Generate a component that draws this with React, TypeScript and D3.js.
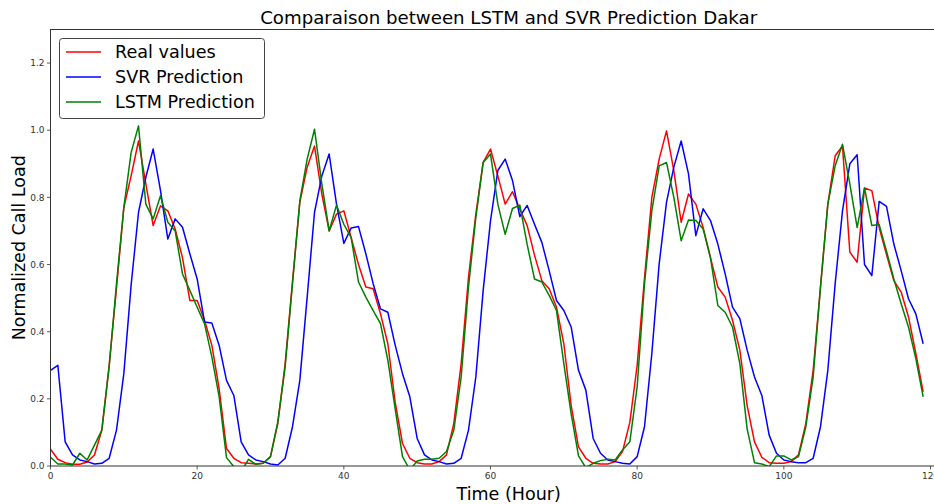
import React from "react";
import * as d3 from "d3";

const hours: number[] = Array.from({ length: 120 }, (_, i) => i);

const realValues: number[] = [
  0.05, 0.02, 0.01, 0.005, 0.005, 0.012, 0.033, 0.107, 0.3, 0.53,
  0.77, 0.865, 0.968, 0.84, 0.716, 0.775, 0.76, 0.706, 0.62, 0.493,
  0.493, 0.434, 0.36, 0.23, 0.052, 0.023, 0.01, 0.008, 0.006, 0.008,
  0.028, 0.127, 0.305, 0.55, 0.785, 0.89, 0.953, 0.81, 0.7, 0.75,
  0.76, 0.68, 0.6, 0.533, 0.528, 0.453, 0.364, 0.19, 0.067, 0.023,
  0.01, 0.006, 0.006, 0.013, 0.033, 0.127, 0.305, 0.562, 0.75, 0.904,
  0.944, 0.864, 0.78, 0.817, 0.765, 0.716, 0.628, 0.552, 0.528, 0.473,
  0.364, 0.18, 0.057, 0.023, 0.008, 0.006, 0.006, 0.013, 0.043, 0.13,
  0.3, 0.56, 0.8, 0.914, 0.998, 0.88, 0.726, 0.81, 0.78, 0.71,
  0.62, 0.533, 0.503, 0.434, 0.345, 0.18, 0.072, 0.026, 0.01, 0.008,
  0.008, 0.013, 0.033, 0.127, 0.285, 0.533, 0.78, 0.924, 0.953, 0.637,
  0.607, 0.828, 0.82, 0.71, 0.63, 0.552, 0.518, 0.444, 0.335, 0.221,
];

const svrPrediction: number[] = [
  0.285, 0.3, 0.072, 0.033, 0.018, 0.013, 0.006, 0.008, 0.023, 0.107,
  0.275, 0.54, 0.755, 0.86, 0.944, 0.82, 0.676, 0.736, 0.711, 0.632,
  0.557, 0.429, 0.426, 0.359, 0.255, 0.21, 0.072, 0.033, 0.018, 0.013,
  0.006, 0.003, 0.023, 0.117, 0.255, 0.503, 0.755, 0.864, 0.929, 0.78,
  0.663, 0.709, 0.713, 0.632, 0.543, 0.468, 0.458, 0.36, 0.275, 0.206,
  0.082, 0.033, 0.018, 0.013, 0.006, 0.008, 0.023, 0.107, 0.265, 0.523,
  0.73, 0.88, 0.914, 0.85, 0.743, 0.776, 0.72, 0.666, 0.582, 0.493,
  0.463, 0.414, 0.285, 0.226, 0.082, 0.038, 0.018, 0.013, 0.008, 0.006,
  0.028, 0.117, 0.335, 0.602, 0.785, 0.89, 0.968, 0.87, 0.686, 0.766,
  0.731, 0.661, 0.572, 0.473, 0.439, 0.345, 0.265, 0.21, 0.092, 0.038,
  0.018, 0.013, 0.01, 0.01, 0.023, 0.117, 0.285, 0.543, 0.76, 0.9,
  0.927, 0.6, 0.567, 0.788, 0.773, 0.661, 0.582, 0.498, 0.453, 0.364,
];

const lstmPrediction: number[] = [
  0.026, 0.006, 0.006, 0.003, 0.038, 0.018, 0.062, 0.107, 0.295, 0.543,
  0.77, 0.934, 1.013, 0.78, 0.736, 0.805, 0.726, 0.7, 0.572, 0.523,
  0.473, 0.424, 0.325, 0.206, 0.025, -0.002, -0.017, 0.02, 0.005, 0.008,
  0.028, 0.132, 0.295, 0.543, 0.79, 0.914, 1.003, 0.84, 0.7, 0.777,
  0.72, 0.68, 0.548, 0.503, 0.463, 0.424, 0.315, 0.17, 0.028, -0.012,
  0.015, 0.02, 0.02, 0.023, 0.043, 0.107, 0.265, 0.533, 0.74, 0.904,
  0.929, 0.78, 0.69, 0.767, 0.777, 0.66, 0.557, 0.548, 0.508, 0.463,
  0.305, 0.155, 0.03, -0.005, 0.008, 0.016, 0.02, 0.018, 0.048, 0.072,
  0.236, 0.543, 0.76, 0.894, 0.904, 0.8, 0.671, 0.733, 0.731, 0.706,
  0.62, 0.478, 0.458, 0.414, 0.305, 0.11, 0.01, 0.006, -0.002, 0.03,
  0.03, 0.018, 0.028, 0.117, 0.265, 0.533, 0.78, 0.894, 0.958, 0.84,
  0.71, 0.828, 0.716, 0.719, 0.64, 0.557, 0.483, 0.414, 0.32, 0.206,
];

const xTicks: number[] = [0, 20, 40, 60, 80, 100, 120];
const yTicks: number[] = [0, 0.2, 0.4, 0.6, 0.8, 1.0, 1.2];

const seriesNames: string[] = ["Real values", "SVR Prediction", "LSTM Prediction"];
const seriesColors: string[] = ["#ff0000", "#0000ff", "#008000"];

const W = 934;
const H = 504;
const LEFT = 50.5;
const TOP = 29.5;
const BOTTOM = 466;
const X_MAX = 124.95;
const PX_PER_UNIT = (930.5 - 50.5) / 120;
const RIGHT = LEFT + X_MAX * PX_PER_UNIT;

const FONT = "'DejaVu Sans', sans-serif";

export default function App() {
  const x = d3.scaleLinear().domain([0, X_MAX]).range([LEFT, RIGHT]);
  const y = d3.scaleLinear().domain([0, 1.3]).range([BOTTOM, TOP]);

  const allSeries = [realValues, svrPrediction, lstmPrediction];
  const line = d3
    .line<number>()
    .x((_, i) => x(hours[i]))
    .y((d) => y(d));

  const cx = (LEFT + RIGHT) / 2;
  const cy = (TOP + BOTTOM) / 2;

  return (
    <svg
      width={W}
      height={H}
      style={{ position: "absolute", left: 0, top: 0, background: "#fff" }}
      fontFamily={FONT}
    >
      <defs>
        <clipPath id="plotArea">
          <rect x={LEFT} y={TOP} width={RIGHT - LEFT} height={BOTTOM - TOP} />
        </clipPath>
      </defs>
      <rect x={0} y={0} width={W} height={H} fill="#fff" />

      <g clipPath="url(#plotArea)">
        {allSeries.map((s, k) => (
          <path
            key={k}
            d={line(s) || ""}
            fill="none"
            stroke={seriesColors[k]}
            strokeWidth={1.5}
            strokeLinejoin="round"
          />
        ))}
      </g>

      {/* spines */}
      <rect
        x={LEFT}
        y={TOP}
        width={RIGHT - LEFT}
        height={BOTTOM - TOP}
        fill="none"
        stroke="#333"
        strokeWidth={1}
      />

      {/* x ticks */}
      {xTicks.map((t) => (
        <g key={"x" + t}>
          <line x1={x(t)} x2={x(t)} y1={BOTTOM} y2={BOTTOM + 3.5} stroke="#333" strokeWidth={0.8} />
          <text
            x={x(t)}
            y={BOTTOM + 12.5}
            fontSize={9}
            textAnchor="middle"
            fill="#333"
          >
            {d3.format("d")(t)}
          </text>
        </g>
      ))}

      {/* y ticks */}
      {yTicks.map((t) => (
        <g key={"y" + t}>
          <line x1={LEFT - 3.5} x2={LEFT} y1={y(t)} y2={y(t)} stroke="#333" strokeWidth={0.8} />
          <text
            x={LEFT - 6}
            y={y(t) + 3.2}
            fontSize={9}
            textAnchor="end"
            fill="#333"
          >
            {d3.format(".1f")(t)}
          </text>
        </g>
      ))}

      {/* title */}
      <text x={cx} y={24} fontSize={18.2} textAnchor="middle" fill="#000">
        Comparaison between LSTM and SVR Prediction Dakar
      </text>

      {/* axis labels */}
      <text x={cx} y={500} fontSize={17.5} textAnchor="middle" fill="#000">
        Time (Hour)
      </text>
      <text
        transform={`translate(25,${cy}) rotate(-90)`}
        fontSize={17.5}
        textAnchor="middle"
        fill="#000"
      >
        Normalized Call Load
      </text>

      {/* legend */}
      <g>
        <rect
          x={59.5}
          y={38.5}
          width={205}
          height={80}
          rx={3}
          fill="#fff"
          fillOpacity={0.8}
          stroke="#444"
          strokeWidth={1}
        />
        {seriesNames.map((name, k) => {
          const ly = 52 + k * 25;
          return (
            <g key={name}>
              <line x1={66} x2={101} y1={ly} y2={ly} stroke={seriesColors[k]} strokeWidth={1.5} />
              <text x={115} y={ly + 6} fontSize={17.6} fill="#000">
                {name}
              </text>
            </g>
          );
        })}
      </g>
    </svg>
  );
}
